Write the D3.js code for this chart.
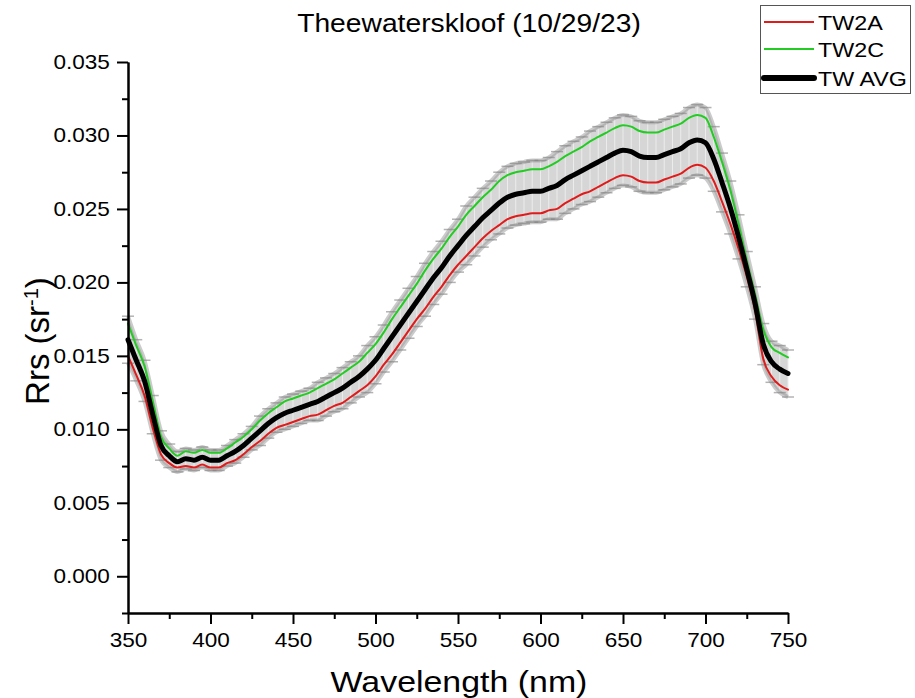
<!DOCTYPE html>
<html>
<head>
<meta charset="utf-8">
<script src="https://cdn.jsdelivr.net/npm/d3@7"></script>
<style>
  body { margin: 0; background: #fff; }
  text { font-family: Arial, "Liberation Sans", sans-serif; fill: #000; }
</style>
</head>
<body>
<svg id="chart" width="915" height="698"></svg>
<script>
// wavelengths (nm)
var wavelengths = [350,355,360,365,370,375,380,385,390,395,400,405,410,415,420,425,430,435,440,445,
    450,455,460,465,470,475,480,485,490,495,500,505,510,515,520,525,530,535,540,545,
    550,555,560,565,570,575,580,585,590,595,600,605,610,615,620,625,630,635,640,645,
    650,655,660,665,670,675,680,685,690,695,700,705,710,715,720,725,730,735,740,745,750];

var tw2a = [.0150,.0137,.0123,.0101,.0083,.0077,.0074,.0075,.0074,.0076,.0074,.0074,.0077,.0079,.0083,.0088,.0092,.0097,.0101,.0103,
    .0105,.0107,.0109,.0110,.0113,.0116,.0118,.0122,.0126,.0130,.0136,.0144,.0151,.0159,.0167,.0175,.0182,.0190,.0197,.0205,
    .0212,.0218,.0224,.0230,.0235,.0239,.0243,.0245,.0246,.0247,.0247,.0249,.0250,.0254,.0257,.0260,.0262,.0265,.0268,.0271,
    .0273,.0272,.0269,.0268,.0268,.0270,.0272,.0274,.0278,.0280,.0278,.0269,.0255,.0240,.0223,.0204,.0181,.0148,.0136,.0130,.0127];

var tw2c = [.0172,.0157,.0143,.0119,.0095,.0087,.0082,.0085,.0084,.0086,.0084,.0084,.0087,.0091,.0095,.0100,.0106,.0111,.0115,.0119,
    .0121,.0123,.0125,.0128,.0131,.0134,.0138,.0142,.0146,.0152,.0158,.0166,.0175,.0183,.0191,.0199,.0208,.0216,.0223,.0231,
    .0238,.0246,.0252,.0258,.0263,.0269,.0273,.0275,.0276,.0277,.0277,.0279,.0282,.0286,.0289,.0292,.0296,.0299,.0302,.0305,
    .0307,.0306,.0303,.0302,.0302,.0304,.0306,.0308,.0312,.0314,.0312,.0299,.0282,.0263,.0240,.0215,.0192,.0168,.0156,.0152,.0149];

var twAvg = [.0161,.0147,.0133,.0110,.0089,.0082,.0078,.0080,.0079,.0081,.0079,.0079,.0082,.0085,.0089,.0094,.0099,.0104,.0108,.0111,
    .0113,.0115,.0117,.0119,.0122,.0125,.0128,.0132,.0136,.0141,.0147,.0155,.0163,.0171,.0179,.0187,.0195,.0203,.0210,.0218,
    .0225,.0232,.0238,.0244,.0249,.0254,.0258,.0260,.0261,.0262,.0262,.0264,.0266,.0270,.0273,.0276,.0279,.0282,.0285,.0288,
    .0290,.0289,.0286,.0285,.0285,.0287,.0289,.0291,.0295,.0297,.0295,.0284,.0268,.0251,.0231,.0209,.0186,.0158,.0146,.0141,.0138];

// error bar half-height of TW AVG
var twErr = [.0016,.0014,.0014,.0013,.0010,.0008,.0007,.0007,.0007,.0007,.0007,.0007,.0007,.0008,.0008,.0008,.0010,.0010,.0010,.0011,
    .0011,.0011,.0011,.0013,.0013,.0013,.0014,.0014,.0014,.0016,.0016,.0016,.0017,.0017,.0017,.0017,.0018,.0018,.0018,.0018,
    .0018,.0020,.0020,.0020,.0020,.0021,.0021,.0021,.0021,.0021,.0021,.0021,.0023,.0023,.0023,.0023,.0024,.0024,.0024,.0024,
    .0024,.0024,.0024,.0024,.0024,.0024,.0024,.0024,.0024,.0024,.0024,.0022,.0020,.0018,.0015,.0012,.0011,.0014,.0014,.0016,.0016];

var xTicks = [350, 400, 450, 500, 550, 600, 650, 700, 750];
var xMinor = [375, 425, 475, 525, 575, 625, 675, 725];
var yTicks = [0, 0.005, 0.010, 0.015, 0.020, 0.025, 0.030, 0.035];
var yMinor = [-0.0025, 0.0025, 0.0075, 0.0125, 0.0175, 0.0225, 0.0275, 0.0325];

var seriesNames = ["TW2A", "TW2C", "TW AVG"];
var seriesColors = ["#e01b1b", "#22cc22", "#000000"];
var seriesWidths = [2, 2, 5];

var svg = d3.select("#chart");
var x = d3.scaleLinear().domain([350, 750]).range([128, 788]);
var y = d3.scaleLinear().domain([-0.0025, 0.035]).range([613, 62]);
var stretch = "scale(1.13,1)";

var pts = wavelengths.map(function (w, i) {
    return {w: w, a: tw2a[i], c: tw2c[i], m: twAvg[i], e: twErr[i]};
});

// error band
var eb = svg.append("g");
eb.append("path")
    .datum(pts)
    .attr("fill", "#d6d6d6")
    .attr("d", d3.area().curve(d3.curveMonotoneX)
        .x(function (d) { return x(d.w); })
        .y0(function (d) { return y(d.m - d.e); })
        .y1(function (d) { return y(d.m + d.e); }));
eb.selectAll("line.bar")
    .data(pts)
    .join("line")
    .attr("class", "bar")
    .attr("stroke", "#ececec")
    .attr("stroke-width", 1)
    .attr("x1", function (d) { return x(d.w); })
    .attr("x2", function (d) { return x(d.w); })
    .attr("y1", function (d) { return y(d.m - d.e); })
    .attr("y2", function (d) { return y(d.m + d.e); });
[-1, 1].forEach(function (s) {
    eb.append("path")
        .datum(pts)
        .attr("fill", "none")
        .attr("stroke", "#8c8c8c")
        .attr("stroke-opacity", 0.45)
        .attr("stroke-width", 4)
        .attr("d", d3.line().curve(d3.curveMonotoneX)
            .x(function (d) { return x(d.w); })
            .y(function (d) { return y(d.m + s * d.e); }));
    eb.selectAll("line.cap" + (s > 0 ? "u" : "d"))
        .data(pts)
        .join("line")
        .attr("class", "cap" + (s > 0 ? "u" : "d"))
        .attr("stroke", "#808080")
        .attr("stroke-opacity", 0.6)
        .attr("stroke-width", 1.5)
        .attr("x1", function (d) { return x(d.w) - 6; })
        .attr("x2", function (d) { return x(d.w) + 6; })
        .attr("y1", function (d) { return y(d.m + s * d.e); })
        .attr("y2", function (d) { return y(d.m + s * d.e); });
});

// series lines
var seriesData = [tw2a, tw2c, twAvg];
seriesData.forEach(function (vals, k) {
    svg.append("path")
        .datum(vals)
        .attr("fill", "none")
        .attr("stroke", seriesColors[k])
        .attr("stroke-width", seriesWidths[k])
        .attr("stroke-linejoin", "round")
        .attr("stroke-linecap", "round")
        .attr("d", d3.line().curve(d3.curveMonotoneX)
            .x(function (d, i) { return x(wavelengths[i]); })
            .y(function (d) { return y(d); }));
});

// axes
function styleAxis(g) {
    g.select(".domain").attr("stroke-width", 2);
    g.selectAll(".tick line").attr("stroke-width", 2);
}
var gx = svg.append("g").attr("transform", "translate(0,613)")
    .call(d3.axisBottom(x).tickValues(xTicks).tickSize(11).tickSizeOuter(0).tickPadding(9));
gx.call(styleAxis);
gx.selectAll("text").attr("font-size", 20).attr("transform", stretch);
svg.append("g").attr("transform", "translate(0,613)")
    .call(d3.axisBottom(x).tickValues(xMinor).tickSize(6).tickSizeOuter(0).tickFormat(""))
    .call(styleAxis);

var gy = svg.append("g").attr("transform", "translate(128,0)")
    .call(d3.axisLeft(y).tickValues(yTicks).tickSize(11).tickSizeOuter(0).tickPadding(5)
        .tickFormat(d3.format(".3f")));
gy.call(styleAxis);
gy.selectAll("text").attr("font-size", 20).attr("transform", stretch);
svg.append("g").attr("transform", "translate(128,0)")
    .call(d3.axisLeft(y).tickValues(yMinor).tickSize(6).tickSizeOuter(0).tickFormat(""))
    .call(styleAxis);

// title and axis labels
svg.append("text")
    .attr("transform", "translate(469,32) " + stretch)
    .attr("text-anchor", "middle")
    .attr("font-size", 25)
    .text("Theewaterskloof (10/29/23)");

svg.append("text")
    .attr("transform", "translate(459,692) " + stretch)
    .attr("text-anchor", "middle")
    .attr("font-size", 30)
    .text("Wavelength (nm)");

var yl = svg.append("text")
    .attr("transform", "translate(49,341) rotate(-90)")
    .attr("text-anchor", "middle")
    .attr("font-size", 33);
yl.append("tspan").text("Rrs (sr");
yl.append("tspan").attr("font-size", 20).attr("baseline-shift", "super").text("-1");
yl.append("tspan").text(")");

// legend
var lg = svg.append("g");
lg.append("rect")
    .attr("x", 760.5).attr("y", 5.5).attr("width", 150).attr("height", 88)
    .attr("fill", "#fff").attr("stroke", "#555").attr("stroke-width", 1);
var rowY = [22, 49, 78];
seriesNames.forEach(function (name, k) {
    lg.append("line")
        .attr("x1", 764).attr("x2", 814)
        .attr("y1", rowY[k]).attr("y2", rowY[k])
        .attr("stroke", seriesColors[k])
        .attr("stroke-width", k === 2 ? 6 : 2)
        .attr("stroke-linecap", k === 2 ? "round" : "butt");
    lg.append("text")
        .attr("transform", "translate(818," + (rowY[k] + 8) + ") scale(1.11,1)")
        .attr("font-size", 21)
        .text(name);
});
</script>
</body>
</html>
